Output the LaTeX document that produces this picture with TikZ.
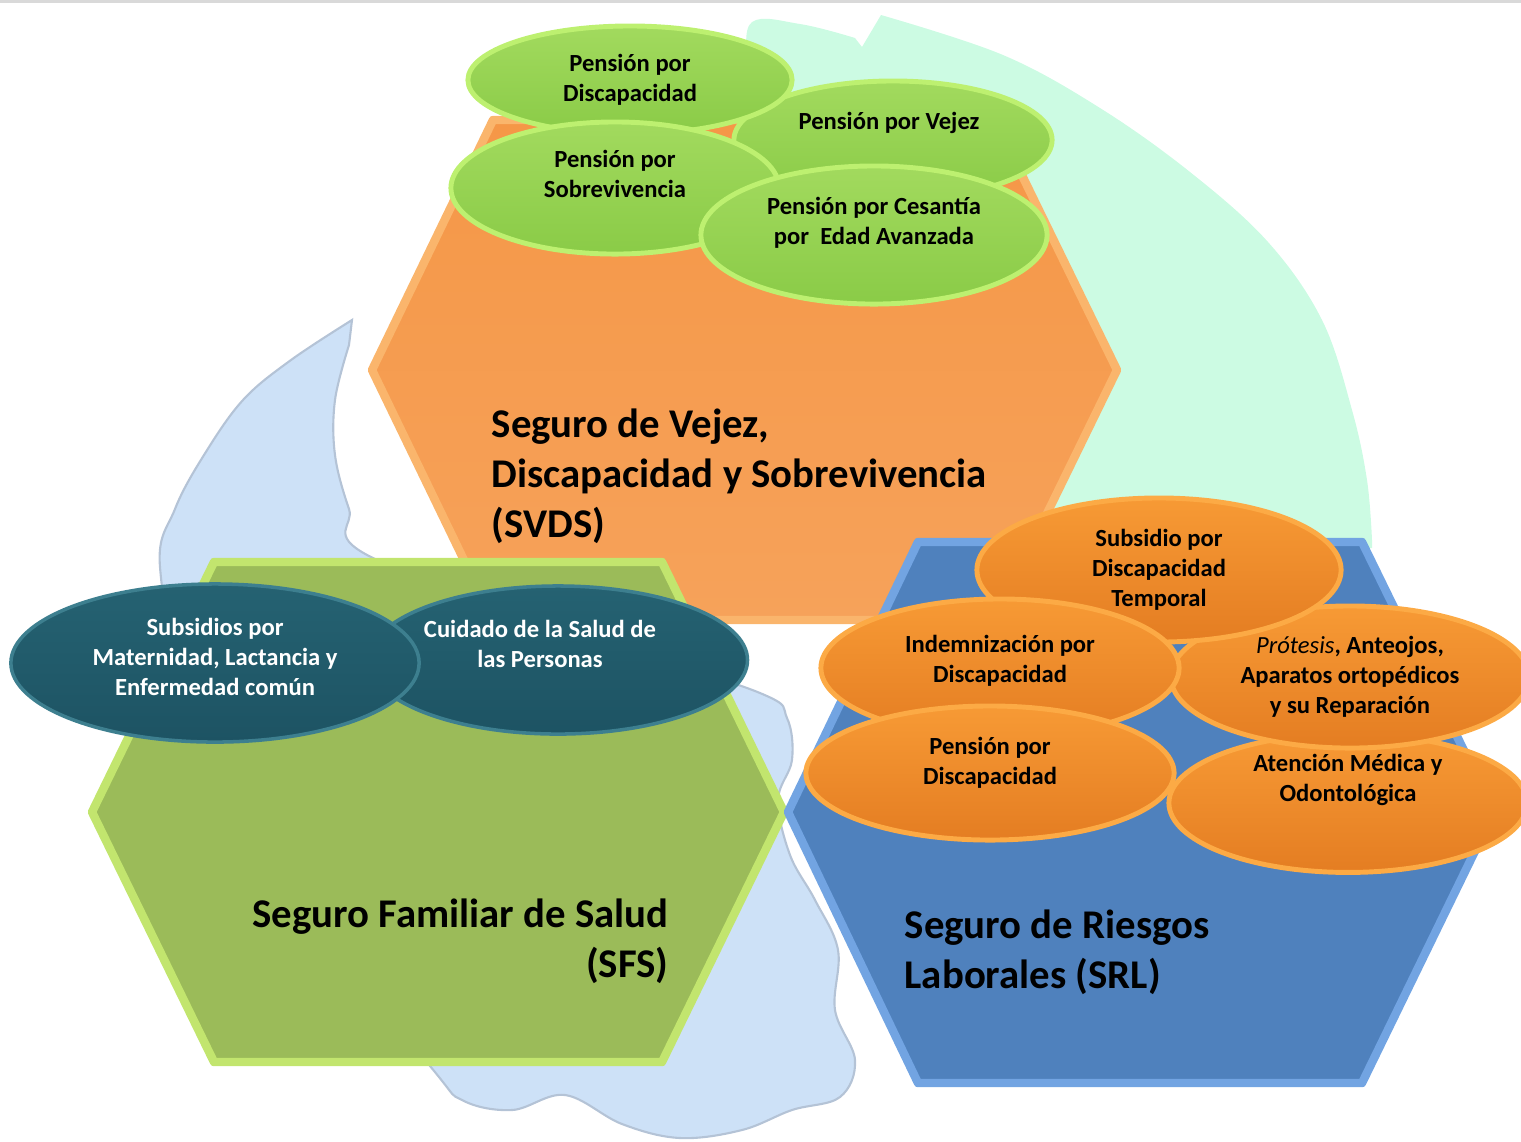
\documentclass[tikz,border=0pt]{standalone}
\usepackage{fontspec}
\setmainfont{Carlito}
\usepackage{xcolor}
\definecolor{mmint}{HTML}{CCFBE3}
\definecolor{ccloud}{HTML}{CDE1F7}
\definecolor{ccloudline}{HTML}{B4C3D6}
\definecolor{oorange}{HTML}{F59747}
\definecolor{oorangelow}{HTML}{F6A25A}
\definecolor{oorangelt}{HTML}{FAB56C}
\definecolor{ggreen}{HTML}{9BBB59}
\definecolor{ggreenlt}{HTML}{C2E56E}
\definecolor{bblue}{HTML}{4F81BD}
\definecolor{bbluelt}{HTML}{72A4E2}
\definecolor{lgreentop}{HTML}{A2DA5E}
\definecolor{lgreenbot}{HTML}{8ACB47}
\definecolor{lgreenrim}{HTML}{BDF070}
\definecolor{ooval}{HTML}{F79A35}
\definecolor{oovalbot}{HTML}{E47D22}
\definecolor{oovalrim}{HTML}{FCAA45}
\definecolor{tteal}{HTML}{256272}
\definecolor{ttealbot}{HTML}{1D5363}
\definecolor{ttealrim}{HTML}{3D7F8F}
\usetikzlibrary{shapes.geometric}

\begin{document}
\begin{tikzpicture}[x=0.01cm,y=-0.01cm,
  every node/.style={inner sep=0pt},
  item/.style={ellipse, align=center, font=\fontsize{7pt}{8.5pt}\selectfont\bfseries, line width=1.4pt},
  vdsitem/.style={item, top color=lgreentop, bottom color=lgreenbot, draw=lgreenrim},
  srlitem/.style={item, top color=ooval, bottom color=oovalbot, draw=oovalrim},
  sfsitem/.style={item, top color=tteal, bottom color=ttealbot, draw=ttealrim, line width=1pt, text=white},
  title/.style={font=\fontsize{11.6pt}{14.2pt}\selectfont\bfseries},
  hexa/.style={line width=2.4pt, line join=round}]
\useasboundingbox (0,0) rectangle (1521,1141);
\draw[black!15, line width=1pt] (0,1) -- (1521,1);

% background shapes
\fill[mmint] plot[smooth, tension=.7] coordinates {(748,60) (752,22) (800,24) (855,38)} -- (862,47)
  -- plot[smooth, tension=.6] coordinates {(881,15) (1003,55) (1100,108) (1190,172) (1268,242) (1322,320) (1352,410) (1367,480) (1372,540)}
  -- (1372,548) -- (1000,548) -- (760,300) -- cycle;
\filldraw[fill=ccloud, draw=ccloudline, line width=.6pt] plot[smooth, tension=.6] coordinates {(352,320) (291,360) (243,400) (204,455) (175,509) (160,567) (190,700) (280,880) (430,1066) (462,1100) (512,1110) (565,1095) (622,1124) (680,1138) (742,1130) (792,1110) (840,1097) (855,1060) (835,1010) (838,950) (815,900) (790,855) (778,800) (792,760) (787,718) (760,693) (600,640) (369,556) (349,509) (335,455) (335,400) (349,345)} -- cycle;

% SVDS
\path[hexa, top color=oorange, bottom color=oorangelow, draw=oorangelt] (372,370) -- (493,120) -- (995,120) -- (1117,370) -- (995,620) -- (493,620) -- cycle;
\node[vdsitem, minimum width=3.18cm, minimum height=1.18cm, text depth=.39cm] (vejez) at (893,140) {Pensión por Vejez\hspace*{.08cm}};
\node[vdsitem, minimum width=3.24cm, minimum height=1.08cm] (pdisc) at (630,80) {Pensión por\\Discapacidad};
\node[vdsitem, minimum width=3.28cm, minimum height=1.32cm, text depth=.29cm] (sobrev) at (615,188) {Pensión por\\Sobrevivencia};
\node[vdsitem, minimum width=3.46cm, minimum height=1.38cm, text depth=.29cm] (cesantia) at (874,235) {Pensión por Cesantía\\por\ \ Edad Avanzada};
\node[title, align=left, anchor=west] (svds) at (491,476) {Seguro de Vejez,\\Discapacidad y Sobrevivencia\\(SVDS)};

% SFS
\path[hexa, fill=ggreen, draw=ggreenlt] (92,812) -- (214,562) -- (662,562) -- (784,812) -- (662,1062) -- (214,1062) -- cycle;
\node[title, align=right, anchor=east] (sfs) at (669,941) {Seguro Familiar de Salud\\(SFS)};

% SRL
\path[hexa, fill=bblue, draw=bbluelt] (788,812) -- (918,542) -- (1362,542) -- (1494,812) -- (1362,1083) -- (918,1083) -- cycle;
\node[title, align=left, anchor=west] (srl) at (904,952) {Seguro de Riesgos\\Laborales (SRL)};

\node[sfsitem, minimum width=3.74cm, minimum height=1.48cm, text depth=.33cm] (cuidado) at (558,660) {Cuidado de la Salud de\hspace*{.36cm}\\las Personas\hspace*{.36cm}};
\node[sfsitem, minimum width=4.08cm, minimum height=1.58cm, text depth=.13cm] (subsidios) at (215,663) {Subsidios por\\Maternidad, Lactancia y\\Enfermedad común};

\node[srlitem, minimum width=3.58cm, minimum height=1.33cm, text depth=.51cm] (atencion) at (1348,803) {Atención Médica y\\Odontológica};
\node[srlitem, minimum width=3.58cm, minimum height=1.42cm] (protesis) at (1350,677) {{\mdseries\itshape Prótesis}, Anteojos,\\Aparatos ortopédicos\\y su Reparación};
\node[srlitem, minimum width=3.64cm, minimum height=1.44cm] (subsidio) at (1159,570) {Subsidio por\\Discapacidad\\Temporal};
\node[srlitem, minimum width=3.58cm, minimum height=1.38cm, text depth=.19cm] (indemn) at (1000,668) {Indemnización por\\Discapacidad};
\node[srlitem, minimum width=3.68cm, minimum height=1.34cm, text depth=.25cm] (pension) at (990,773) {Pensión por\\Discapacidad};
\end{tikzpicture}
\end{document}
